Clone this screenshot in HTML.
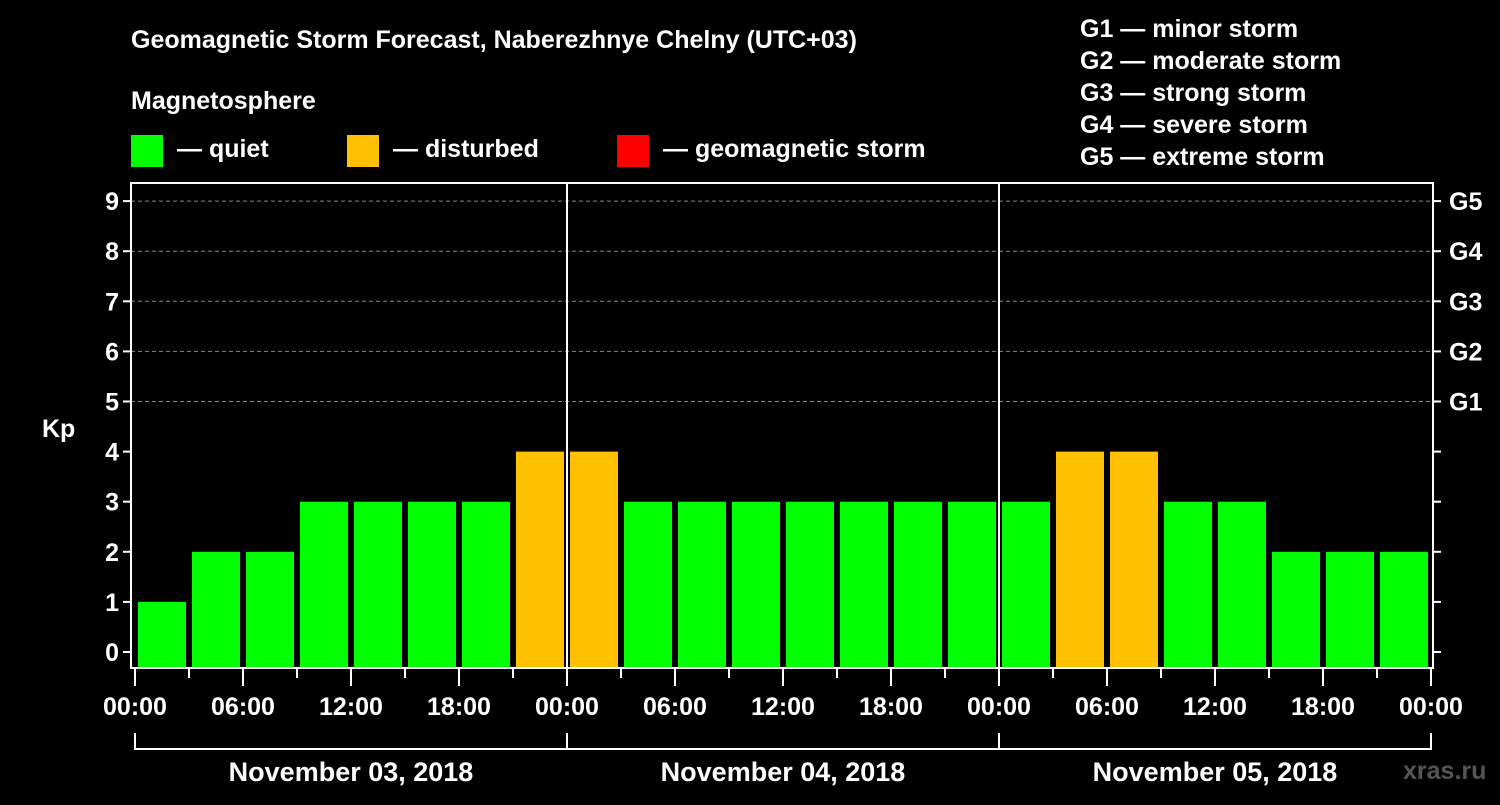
<!DOCTYPE html>
<html><head><meta charset="utf-8"><style>
body{margin:0;background:#000;width:1500px;height:800px;overflow:hidden}
text{font-family:"Liberation Sans",Arial,sans-serif;font-weight:bold;fill:#fff}
</style></head><body>
<svg id="c" width="1500" height="800">
<text x="131" y="48" font-size="25">Geomagnetic Storm Forecast, Naberezhnye Chelny (UTC+03)</text>
<text x="131" y="109" font-size="25">Magnetosphere</text>
<g>
<rect x="131" y="135" width="32" height="32" fill="#00ff00"/>
<text x="177" y="157" font-size="25">— quiet</text>
<rect x="347" y="135" width="32" height="32" fill="#ffc000"/>
<text x="393" y="157" font-size="25">— disturbed</text>
<rect x="617" y="135" width="32" height="32" fill="#ff0000"/>
<text x="663" y="157" font-size="25">— geomagnetic storm</text>
</g>
<g font-size="25">
<text x="1080" y="37">G1 — minor storm</text>
<text x="1080" y="69">G2 — moderate storm</text>
<text x="1080" y="101">G3 — strong storm</text>
<text x="1080" y="133">G4 — severe storm</text>
<text x="1080" y="165">G5 — extreme storm</text>
</g>
<text x="42" y="437" font-size="25">Kp</text>
<text x="1403" y="779" font-size="25" fill="#555" style="fill:#555">xras.ru</text>
<g id="plot"></g>
</svg>
<script>
const values=[1,2,2,3,3,3,3,4,4,3,3,3,3,3,3,3,3,4,4,3,3,2,2,2];
const days=["November 03, 2018","November 04, 2018","November 05, 2018"];
const yTicks=[0,1,2,3,4,5,6,7,8,9];
const gLabels=["G1","G2","G3","G4","G5"];
const hourLabels=["00:00","06:00","12:00","18:00"];
const NS="http://www.w3.org/2000/svg";
const g=document.getElementById('plot');
const L=131,R=1433,T=183,B=668,X0=135,DAY=432;
const x=h=>X0+h*DAY/24;
const y=v=>652-v*50.1;
function mk(tag,a){const e=document.createElementNS(NS,tag);for(const k in a)e.setAttribute(k,a[k]);g.appendChild(e);return e;}
yTicks.forEach(v=>{
 if(v>=5){const l=mk('line',{x1:L,x2:R,y1:y(v),y2:y(v),stroke:'#888','stroke-dasharray':'4,3','stroke-width':1});
 
 }
 const t=mk('line',{x1:L-8,x2:L,y1:y(v),y2:y(v),stroke:'#fff','stroke-width':2});
 
 
 const rt=mk('line',{x1:R,x2:R+8,y1:y(v),y2:y(v),stroke:'#fff','stroke-width':2});
 
 
 const lb=mk('text',{x:L-12,y:y(v)+9,'font-size':25,'text-anchor':'end'});lb.textContent=v;
 
 
});
gLabels.forEach((s,i)=>{const t=mk('text',{x:R+16,y:y(5+i)+9,'font-size':25});t.textContent=s;
 
 });
values.forEach((v,i)=>{
 const c=v>=5?'#ff0000':v>=4?'#ffc000':'#00ff00';
 const r=mk('rect',{x:x(i*3)+3,y:y(v),width:DAY/8-6,height:B-y(v),fill:c});
 
 
});
for(let d=1;d<days.length;d++){const l=mk('line',{x1:x(24*d),x2:x(24*d),y1:T,y2:B,stroke:'#fff','stroke-width':2});
 
 }
const fr=mk('rect',{x:L,y:T,width:R-L,height:B-T,fill:'none',stroke:'#fff','stroke-width':2});


for(let h=0;h<=72;h+=3){
 const major=h%6===0;
 const t=mk('line',{x1:x(h),x2:x(h),y1:B,y2:B+(major?18:10),stroke:'#fff','stroke-width':2});
 
 
 if(major){const lb=mk('text',{x:x(h),y:715,'font-size':25,'text-anchor':'middle'});lb.textContent=hourLabels[(h%24)/6];
 
 }
}
const br=mk('path',{d:`M${x(0)} 733V749H${x(72)}V733`,fill:'none',stroke:'#fff','stroke-width':2});


days.forEach((d,i)=>{
 if(i>0){const l=mk('line',{x1:x(24*i),x2:x(24*i),y1:733,y2:749,stroke:'#fff','stroke-width':2});
 
 }
 const t=mk('text',{x:x(24*i+12),y:781,'font-size':27,'text-anchor':'middle'});t.textContent=d;
 
 
});
</script>
</body></html>
